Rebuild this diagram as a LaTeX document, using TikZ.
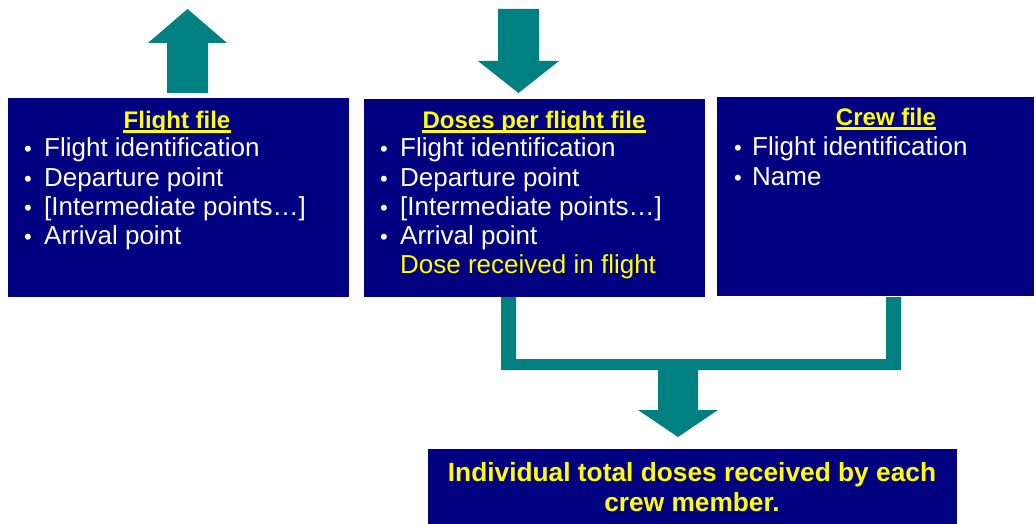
\documentclass[tikz,border=0pt]{standalone}
\usepackage{fontspec}
\setmainfont{Liberation Sans}
\definecolor{boxnavy}{HTML}{000080}
\definecolor{arrowteal}{HTML}{008080}
\definecolor{titleyellow}{HTML}{FFFF00}
\begin{document}
\begin{tikzpicture}[x=1pt,y=-1pt,
  filebox/.style={fill=boxnavy, draw=none, inner sep=0pt, anchor=north west},
  item/.style={text=white, font=\fontsize{26}{30}\selectfont, inner sep=0pt, anchor=base west},
  dot/.style={text=white, font=\fontsize{22}{30}\selectfont, inner sep=0pt, anchor=base},
  heading/.style={text=titleyellow, font=\bfseries\fontsize{24}{29}\selectfont, inner sep=0pt, anchor=base},
  result/.style={text=titleyellow, font=\bfseries\fontsize{26.3}{30}\selectfont, inner sep=0pt, anchor=base},
  note/.style={text=titleyellow, font=\fontsize{26}{30}\selectfont, inner sep=0pt, anchor=base west},
  uline/.style={draw=titleyellow, line width=2.4pt},
  blockarrow/.style={fill=arrowteal, draw=none}]
\useasboundingbox (0,0) rectangle (1036,524);

% ---- file boxes ----
\node[filebox, minimum width=341pt, minimum height=199pt] (flight) at (8,98) {};
\node[filebox, minimum width=341pt, minimum height=198pt] (doses) at (364,99) {};
\node[filebox, minimum width=317pt, minimum height=199pt] (crew) at (717,97) {};
\node[filebox, minimum width=529pt, minimum height=76pt] (total) at (428,449) {};

% ---- block arrows ----
\fill[blockarrow] (167,93) -- (167,43) -- (148,43) -- (187.5,9) -- (227,43)
  -- (208,43) -- (208,93) -- cycle;
\fill[blockarrow] (498,9) -- (539,9) -- (539,61) -- (559,61) -- (518.5,93)
  -- (478,61) -- (498,61) -- cycle;
% bracket joining the two lower files into the result
\fill[blockarrow] (501,297) -- (516,297) -- (516,359) -- (886,359) -- (886,297)
  -- (901,297) -- (901,370) -- (698,370) -- (698,410) -- (718,410) -- (678,437)
  -- (638,410) -- (658,410) -- (658,370) -- (501,370) -- cycle;

% ---- Flight file ----
\node[heading] (t1) at (177,129) {Flight file};
\draw[uline] ([yshift=-2.5pt]t1.base west) -- ([yshift=-2.5pt]t1.base east);
\node[dot] (b11) at (28,157) {•};
\node[item] (i11) at (44,157) {Flight identification};
\node[dot] (b12) at (28,186) {•};
\node[item] (i12) at (44,186) {Departure point};
\node[dot] (b13) at (28,215) {•};
\node[item] (i13) at (44,215) {[Intermediate points…]};
\node[dot] (b14) at (28,244) {•};
\node[item] (i14) at (44,244) {Arrival point};

% ---- Doses per flight file ----
\node[heading] (t2) at (534,129) {Doses per flight file};
\draw[uline] ([yshift=-2.5pt]t2.base west) -- ([yshift=-2.5pt]t2.base east);
\node[dot] (b21) at (384,157) {•};
\node[item] (i21) at (400,157) {Flight identification};
\node[dot] (b22) at (384,186) {•};
\node[item] (i22) at (400,186) {Departure point};
\node[dot] (b23) at (384,215) {•};
\node[item] (i23) at (400,215) {[Intermediate points…]};
\node[dot] (b24) at (384,244) {•};
\node[item] (i24) at (400,244) {Arrival point};
\node[note] (n25) at (400,273) {Dose received in flight};

% ---- Crew file ----
\node[heading] (t3) at (886,126) {Crew file};
\draw[uline] ([yshift=-2.5pt]t3.base west) -- ([yshift=-2.5pt]t3.base east);
\node[dot] (b31) at (738,155) {•};
\node[item] (i31) at (752,155) {Flight identification};
\node[dot] (b32) at (738,185) {•};
\node[item] (i32) at (752,185) {Name};

% ---- result ----
\node[result] (r1) at (692,481) {Individual total doses received by each};
\node[result] (r2) at (692,511) {crew member.};
\end{tikzpicture}
\end{document}
